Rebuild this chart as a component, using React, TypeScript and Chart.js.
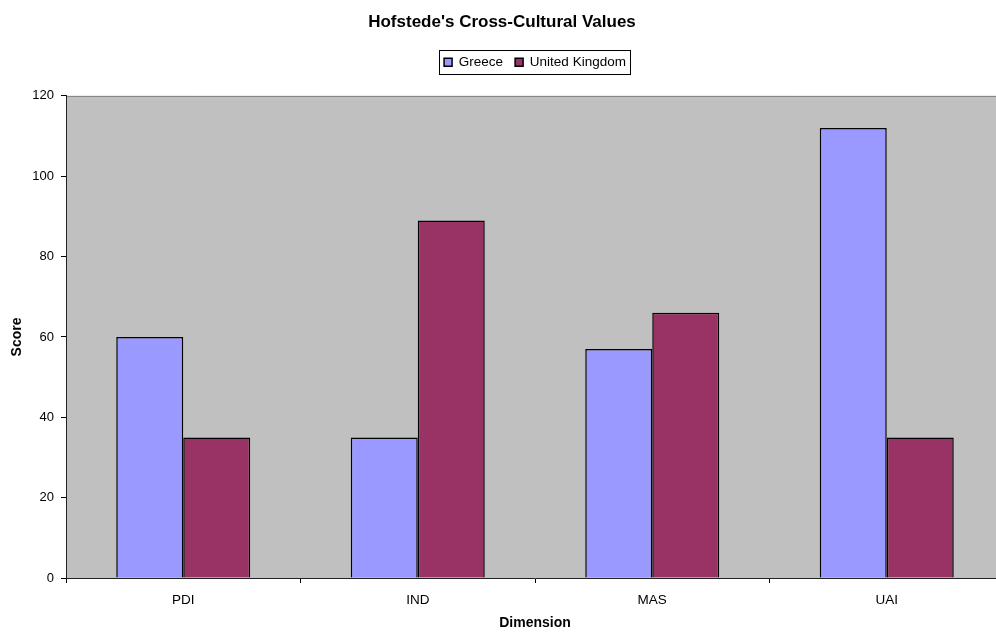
import React, { useEffect, useRef } from "react";
import { Chart, registerables } from "chart.js";

Chart.register(...registerables);

const categories = ["PDI", "IND", "MAS", "UAI"];
const greeceValues = [60, 35, 57, 112];
const ukValues = [35, 89, 66, 35];
const seriesNames = ["Greece", "United Kingdom"];
const titleText = "Hofstede's Cross-Cultural Values";
const xTitle = "Dimension";
const yTitle = "Score";
const yMin = 0;
const yMax = 120;
const yStep = 20;

const FONT = '"Liberation Sans", Arial, sans-serif';

const plotBgPlugin = {
  id: "plotBg",
  beforeDraw(chart: any) {
    const { ctx, chartArea } = chart;
    ctx.save();
    ctx.fillStyle = "#C0C0C0";
    ctx.fillRect(chartArea.left, chartArea.top, chartArea.right - chartArea.left, chartArea.bottom - chartArea.top);
    ctx.strokeStyle = "#808080";
    ctx.lineWidth = 1;
    ctx.beginPath();
    ctx.moveTo(chartArea.left, chartArea.top + 0.5);
    ctx.lineTo(chartArea.right, chartArea.top + 0.5);
    ctx.moveTo(chartArea.right - 0.5, chartArea.top);
    ctx.lineTo(chartArea.right - 0.5, chartArea.bottom);
    ctx.stroke();
    ctx.restore();
  },
};

const legendBoxPlugin = {
  id: "legendBox",
  afterDraw(chart: any) {
    const lg = chart.legend;
    if (!lg || !lg.legendHitBoxes || !lg.legendHitBoxes.length) return;
    let l = Infinity, r = -Infinity, t = Infinity, b = -Infinity;
    for (const h of lg.legendHitBoxes) {
      l = Math.min(l, h.left);
      r = Math.max(r, h.left + h.width);
      t = Math.min(t, h.top);
      b = Math.max(b, h.top + h.height);
    }
    const { ctx } = chart;
    ctx.save();
    ctx.strokeStyle = "#000";
    ctx.lineWidth = 1;
    ctx.strokeRect(Math.round(l - 5) + 0.5, Math.round(t - 5) + 0.5, Math.round(r - l + 9), Math.round(b - t + 10));
    ctx.restore();
  },
};

export default function App() {
  const canvasRef = useRef<HTMLCanvasElement | null>(null);

  useEffect(() => {
    if (!canvasRef.current) return;
    const chart = new Chart(canvasRef.current, {
      type: "bar",
      data: {
        labels: categories,
        datasets: [
          {
            label: seriesNames[0],
            data: greeceValues,
            backgroundColor: "#9999FF",
            borderColor: "#000000",
            borderWidth: 1.5,
          },
          {
            label: seriesNames[1],
            data: ukValues,
            backgroundColor: "#993366",
            borderColor: "#000000",
            borderWidth: 1.5,
          },
        ],
      },
      options: {
        animation: false,
        responsive: false,
        devicePixelRatio: 1,
        layout: { padding: { left: 0, top: 0, bottom: 0, right: 6 } },
        datasets: {
          bar: { categoryPercentage: 2 / 3.5, barPercentage: 1 },
        },
        plugins: {
          title: {
            display: true,
            text: titleText,
            color: "#000",
            font: { family: FONT, size: 17, weight: "bold" },
            padding: { top: 12, bottom: 11 },
          },
          legend: {
            display: true,
            position: "top",
            fullSize: false,
            labels: {
              boxWidth: 8,
              boxHeight: 8,
              padding: 12,
              color: "#000",
              font: { family: FONT, size: 13.5 },
            },
          },
          subtitle: {
            display: true,
            text: "",
            weight: 500,
            font: { family: FONT, size: 1, lineHeight: 1 },
            padding: { top: 0, bottom: 16 },
          } as any,
          tooltip: { enabled: false },
        },
        scales: {
          x: {
            type: "category",
            offset: true,
            afterFit(scale: any) {
              scale.height = 56;
            },
            grid: {
              display: true,
              drawOnChartArea: false,
              drawTicks: true,
              tickLength: 5,
              tickColor: "#000",
              offset: true,
            },
            border: { display: true, color: "#222", width: 1 },
            ticks: {
              color: "#000",
              font: { family: FONT, size: 13.5 },
              padding: 9,
              maxRotation: 0,
            },
            title: {
              display: true,
              text: xTitle,
              color: "#000",
              font: { family: FONT, size: 14, weight: "bold" },
              padding: { top: 0, bottom: 2 },
            },
          },
          y: {
            min: yMin,
            max: yMax,
            afterFit(scale: any) {
              scale.width = 66;
            },
            grid: {
              display: true,
              drawOnChartArea: false,
              drawTicks: true,
              tickLength: 5,
              tickColor: "#000",
            },
            border: { display: true, color: "#222", width: 1 },
            ticks: {
              stepSize: yStep,
              color: "#000",
              font: { family: FONT, size: 13 },
              padding: 7,
            },
            title: {
              display: true,
              text: yTitle,
              color: "#000",
              font: { family: FONT, size: 14, weight: "bold" },
              padding: { top: 9, bottom: 0 },
            },
          },
        },
      },
      plugins: [plotBgPlugin, legendBoxPlugin],
    });
    return () => chart.destroy();
  }, []);

  return (
    <div style={{ position: "fixed", left: 0, top: 0, width: 996, height: 634, overflow: "hidden", background: "#fff" }}>
      <canvas ref={canvasRef} width={1010} height={634} style={{ display: "block", width: 1010, height: 634 }} />
    </div>
  );
}
